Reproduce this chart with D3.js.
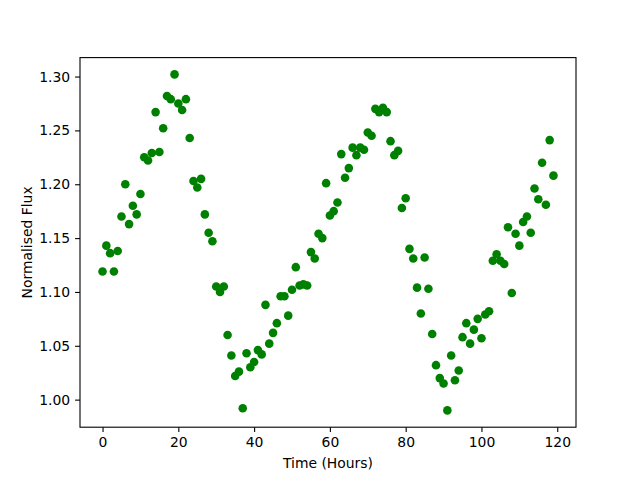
<!DOCTYPE html>
<html>
<head>
<meta charset="utf-8">
<script src="https://cdn.jsdelivr.net/npm/d3@7"></script>
<style>
  body { margin: 0; background: #fff; }
  svg { display: block; }
</style>
</head>
<body>
<div id="chart"></div>
<script>
// data: one reading per hour
var hours = d3.range(0, 120);
var flux = [
  1.119, 1.143, 1.136, 1.119, 1.138, 1.170, 1.200, 1.163, 1.180, 1.172,
  1.191, 1.225, 1.222, 1.229, 1.267, 1.230, 1.252, 1.282, 1.279, 1.302,
  1.275, 1.269, 1.279, 1.243, 1.203, 1.197, 1.205, 1.172, 1.155, 1.147,
  1.105, 1.100, 1.105, 1.060, 1.041, 1.022, 1.026, 0.992, 1.043, 1.030,
  1.035, 1.046, 1.042, 1.088, 1.052, 1.062, 1.071, 1.096, 1.096, 1.078,
  1.102, 1.123, 1.106, 1.107, 1.106, 1.137, 1.131, 1.154, 1.150, 1.201,
  1.171, 1.175, 1.183, 1.228, 1.206, 1.215, 1.234, 1.227, 1.234, 1.232,
  1.248, 1.245, 1.270, 1.267, 1.271, 1.267, 1.240, 1.227, 1.231, 1.178,
  1.187, 1.140, 1.131, 1.104, 1.080, 1.132, 1.103, 1.061, 1.032, 1.020,
  1.015, 0.990, 1.041, 1.018, 1.027, 1.058, 1.071, 1.052, 1.065, 1.075,
  1.057, 1.079, 1.082, 1.129, 1.135, 1.129, 1.126, 1.160, 1.099, 1.154,
  1.143, 1.165, 1.170, 1.155, 1.196, 1.186, 1.220, 1.181, 1.241, 1.208
];
var xTicks = [0, 20, 40, 60, 80, 100, 120];
var yTicks = [1.00, 1.05, 1.10, 1.15, 1.20, 1.25, 1.30];

var W = 640, H = 480;
var margin = { top: 57.6, right: 64, bottom: 52.8, left: 80 };
var width = W - margin.left - margin.right;
var height = H - margin.top - margin.bottom;
var font = "DejaVu Sans, sans-serif";
var fs = "13.9px";

// matplotlib style 5% padding around the data
function padded(ext) {
  var d = ext[1] - ext[0];
  return [ext[0] - 0.05 * d, ext[1] + 0.05 * d];
}

var x = d3.scaleLinear().domain(padded(d3.extent(hours))).range([0, width]);
var y = d3.scaleLinear().domain(padded(d3.extent(flux))).range([height, 0]);

var svg = d3.select("#chart").append("svg")
  .attr("width", W)
  .attr("height", H);

var g = svg.append("g")
  .attr("transform", "translate(" + margin.left + "," + margin.top + ")");

// points
g.selectAll("circle.pt")
  .data(hours)
  .enter().append("circle")
  .attr("class", "pt")
  .attr("cx", function(d, i) { return x(d); })
  .attr("cy", function(d, i) { return y(flux[i]); })
  .attr("r", 4.3)
  .style("fill", "#008000");

// axes
var xAxis = g.append("g")
  .attr("transform", "translate(0," + height + ")")
  .call(d3.axisBottom(x).tickValues(xTicks).tickFormat(d3.format("d"))
    .tickSizeInner(4.9).tickSizeOuter(0).tickPadding(4.9));

var yAxis = g.append("g")
  .call(d3.axisLeft(y).tickValues(yTicks).tickFormat(d3.format(".2f"))
    .tickSizeInner(4.9).tickSizeOuter(0).tickPadding(4.9));

[xAxis, yAxis].forEach(function(a) {
  a.select(".domain").remove();
  a.selectAll(".tick line").style("stroke", "#000").style("stroke-width", 1.1);
  a.selectAll(".tick text")
    .style("font-family", font)
    .style("font-size", fs)
    .style("fill", "#000");
});

// frame
g.append("rect")
  .attr("x", 0).attr("y", 0)
  .attr("width", width).attr("height", height)
  .style("fill", "none")
  .style("stroke", "#000")
  .style("stroke-width", 1.1);

// labels
svg.append("text")
  .attr("x", margin.left + width / 2)
  .attr("y", 468)
  .attr("text-anchor", "middle")
  .style("font-family", font)
  .style("font-size", fs)
  .text("Time (Hours)");

svg.append("text")
  .attr("transform", "translate(32," + (margin.top + height / 2) + ") rotate(-90)")
  .attr("text-anchor", "middle")
  .style("font-family", font)
  .style("font-size", fs)
  .text("Normalised Flux");
</script>
</body>
</html>
